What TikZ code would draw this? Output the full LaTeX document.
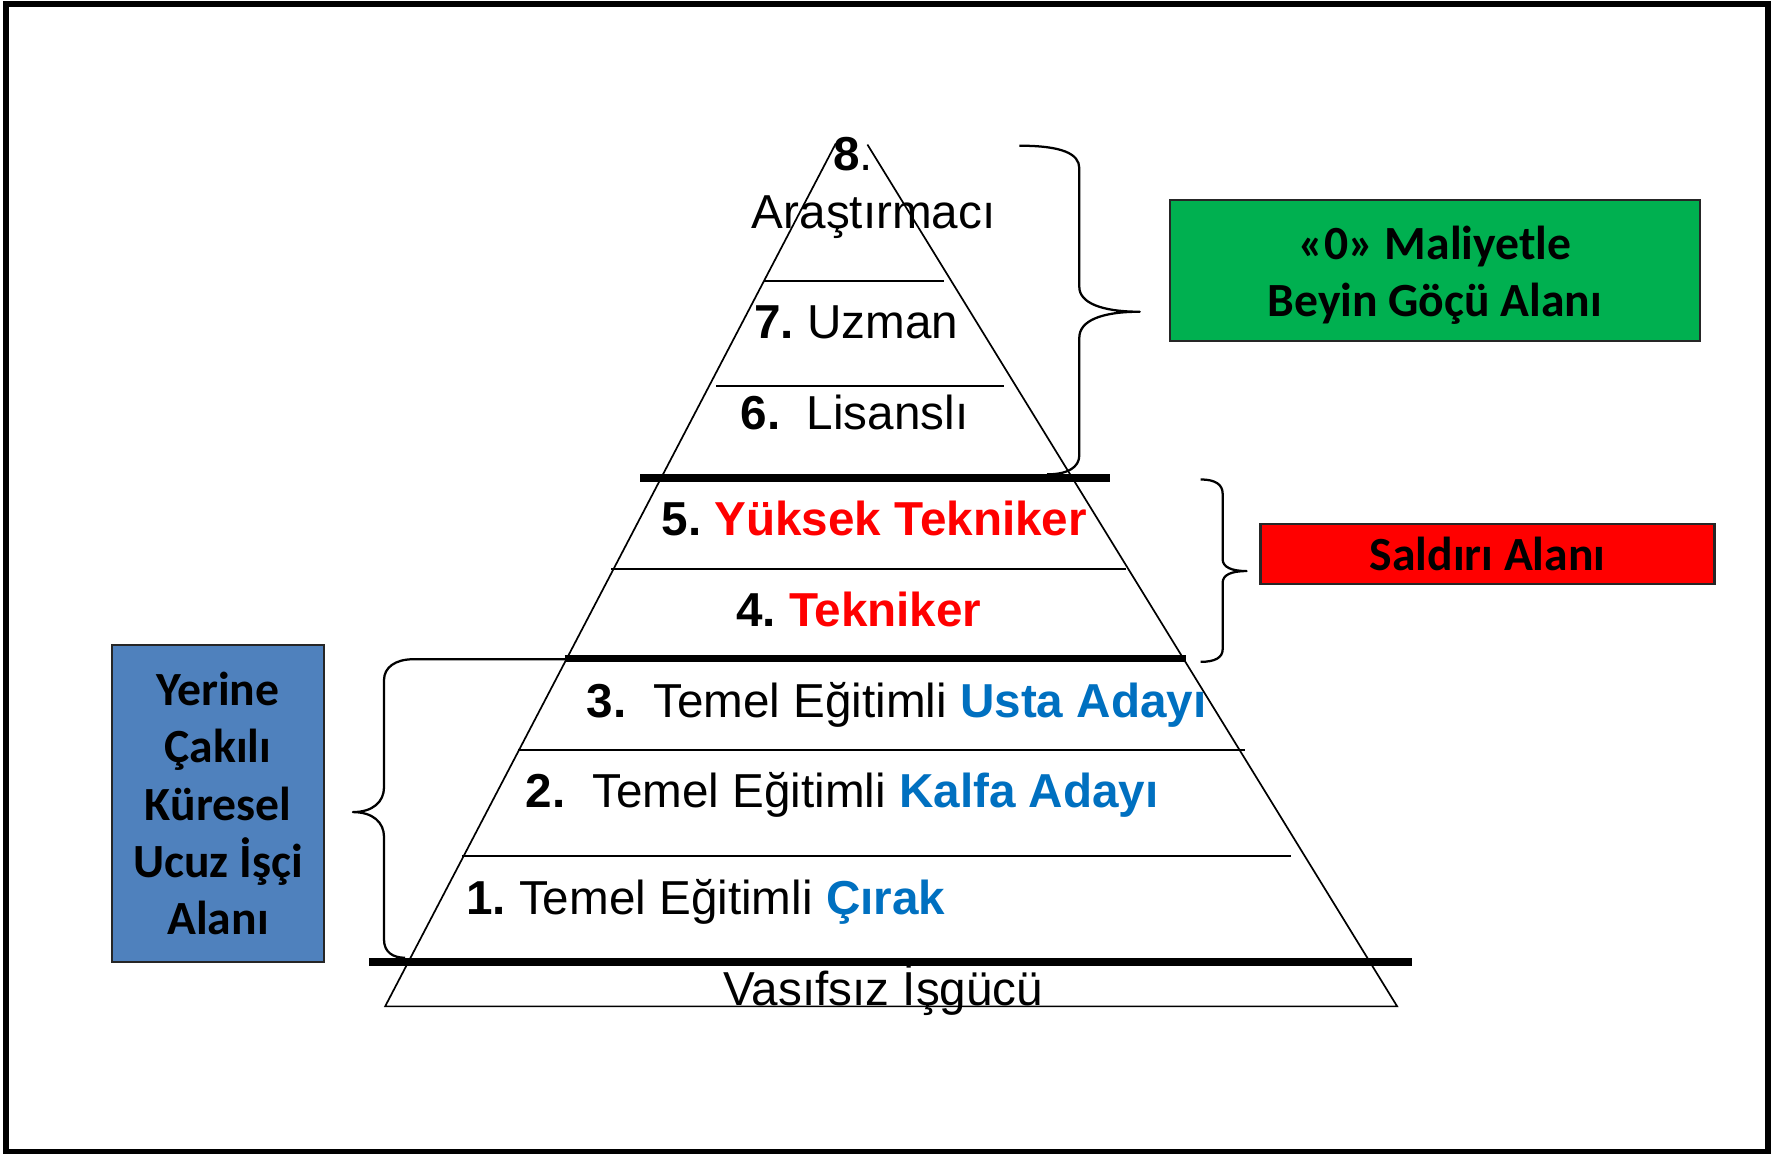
\documentclass[tikz,border=0pt]{standalone}
\usepackage{fontspec}
\setmainfont{Liberation Sans}
\newfontfamily\boxfont{Carlito}
\usepackage{tikz}
\usetikzlibrary{positioning}

\definecolor{tierred}{HTML}{FF0000}
\definecolor{tierblue}{HTML}{0070C0}
\definecolor{gocgreen}{HTML}{00B050}
\definecolor{isciblue}{HTML}{4F81BD}

\begin{document}
\frenchspacing
\begin{tikzpicture}[
		x = 0.1mm, y = -0.1mm, % one unit per pixel, y runs downward
		side/.style = {line width = 0.15mm}, % thin pyramid lines
		bar/.style = {line width = 0.68mm}, % thick separators
		curly/.style = {line width = 0.2mm, line join = round}, % braces
		tier/.style = {anchor = base west, inner sep = 0pt, font = \fontsize{12}{14.4}\selectfont}
		]
		
		\tikzstyle{area}=[
		draw = black!85,
		line width = 0.2mm,
		inner sep = 0pt,
		align = center,
		font = \boxfont\bfseries\fontsize{12}{14.4}\selectfont
		]
		
		\useasboundingbox (0,0) rectangle (1568,1021);
		\draw[line width = 0.55mm] (5.3,3.4) rectangle (1565,1020);
		
		% pyramid outline
		\coordinate (apexL) at (740,127);
		\coordinate (apexR) at (768,128);
		\coordinate (baseL) at (341,891);
		\coordinate (baseR) at (1237,891);
		\draw[side] (apexL) -- (baseL) -- (baseR) -- (apexR);
		
		% tier lines
		\draw[side] (676,249) -- (836,249);
		\draw[side] (634,342) -- (889,342);
		\draw[side] (541,504) -- (997,504);
		\draw[side] (459,664) -- (1102,664);
		\draw[side] (409,758) -- (1143,758);
		\draw[bar] (567,423) -- (983,423);
		\draw[bar] (500,583) -- (1050,583);
		\draw[bar] (327,852) -- (1250,852);
		
		% tier texts
		\node[tier] (t8) at (737,151) {\textbf{8}.};
		\node[tier] (t8name) at (665,202) {Araştırmacı};
		\node[tier] (t7) at (667,300) {\textbf{7.} Uzman};
		\node[tier] (t6) at (655,380) {\textbf{6.}~ Lisanslı};
		\node[tier] (t5) at (585,474) {\textbf{5. \color{tierred}Yüksek Tekniker}};
		\node[tier] (t4) at (651,555) {\textbf{4. \color{tierred}Tekniker}};
		\node[tier] (t3) at (519,635) {\textbf{3.}~ Temel Eğitimli \textbf{\color{tierblue}Usta Adayı}};
		\node[tier] (t2) at (465,715) {\textbf{2.}~ Temel Eğitimli \textbf{\color{tierblue}Kalfa Adayı}};
		\node[tier] (t1) at (412,810) {\textbf{1.} Temel Eğitimli \textbf{\color{tierblue}Çırak}};
		\node[tier] (t0) at (640,890) {Vasıfsız İşgücü};
		
		% area boxes
		\node[area, fill = gocgreen, minimum width = 46.9mm, minimum height = 12.5mm] (brain) at (1270.5,239.5) {};
		\node[area, draw = none] (braintext) at ([yshift = -0.45mm]brain.center) {«0» Maliyetle\\Beyin Göçü Alanı};
		\node[area, fill = tierred, minimum width = 40.2mm, minimum height = 5.3mm] (attack) at (1317,490.5) {Saldırı Alanı};
		\node[area, fill = isciblue, minimum width = 18.8mm, minimum height = 28.1mm] (cheap) at (193,711.5) {Yerine\\Çakılı\\Küresel\\Ucuz İşçi\\Alanı};
		
		% braces
		\draw[curly] (902.5,129) .. controls (940,129) and (955.6,136) .. (955.6,149) -- (955.6,254) .. controls (955.6,268) and (975,276) .. (1009,276) .. controls (975,276) and (955.6,284) .. (955.6,299) -- (955.6,403) .. controls (955.6,414) and (945,420) .. (927,420);
		\draw[curly] (1063,424.5) .. controls (1076,424.5) and (1082.5,429) .. (1082.5,437) -- (1082.5,495) .. controls (1082.5,502) and (1090,505.6) .. (1103.7,505.6) .. controls (1090,505.6) and (1082.5,509) .. (1082.5,516) -- (1082.5,575) .. controls (1082.5,582) and (1076,586) .. (1063,586);
		\draw[curly] (502,583.7) -- (365.6,583.7) .. controls (350,583.7) and (340,591) .. (340,602) -- (340,697) .. controls (340,710) and (330,719) .. (312.5,719) .. controls (330,719) and (340,728) .. (340,741) -- (340,832) .. controls (340,843) and (348,848) .. (358.6,848);
		
\end{tikzpicture}
\end{document}
